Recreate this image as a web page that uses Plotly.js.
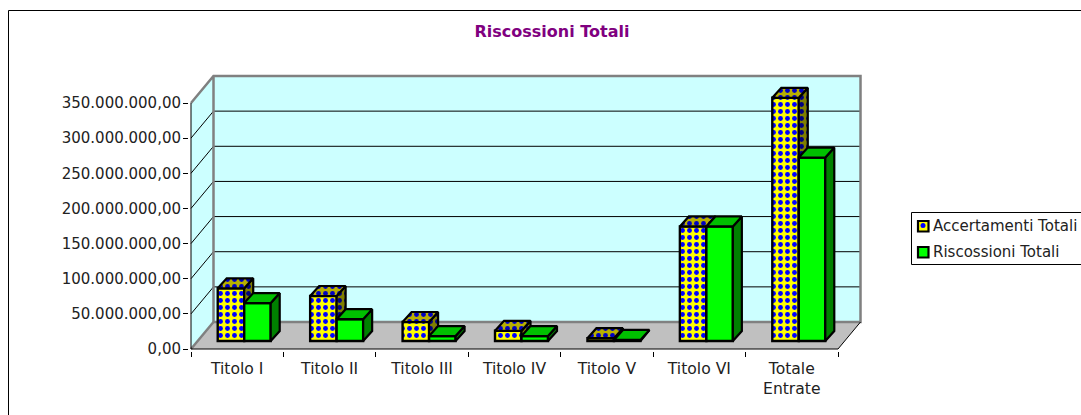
<!DOCTYPE html>
<html><head><meta charset="utf-8">
<script src="https://cdn.plot.ly/plotly-3.0.1.min.js"></script>
<style>html,body{margin:0;padding:0;background:#fff;overflow:hidden}</style>
</head><body><div id="chart" style="width:1081px;height:415px"></div>
<script>
const categories = ["Titolo I","Titolo II","Titolo III","Titolo IV","Titolo V","Titolo VI","Totale<br>Entrate"];
const accertamenti = [75000000,64000000,27000000,14500000,4000000,163000000,346000000];
const riscossioni = [54000000,31000000,7000000,7000000,1500000,163000000,261000000];
const tickValues = [0,50000000,100000000,150000000,200000000,250000000,300000000,350000000];
const tickLabels = ["0,00","50.000.000,00","100.000.000,00","150.000.000,00","200.000.000,00","250.000.000,00","300.000.000,00","350.000.000,00"];

const W=1081,H=415, FONT='"DejaVu Sans", Verdana, sans-serif', TEXT='#222';
// scale: pixels per category and per value on the front plane
const pxX=92.43, pxY=246/350000000, x0px=191, y0px=349;
const px=v=>v/pxX, py=v=>v/pxY;
const wallDX=px(22.5), wallDY=py(27);   // depth of the chart box
const barDX=px(9), barDY=py(10);        // depth of a bar
const barW=px(26.5), barShift=px(7), lift=py(8);
const rangeX=[px(189-x0px),px(862-x0px)], rangeY=[py(y0px-351),py(y0px-73)];
const maxV=tickValues[tickValues.length-1], nCat=categories.length;

const paperX=p=>p/W, paperY=p=>1-p/H;
const poly=pts=>'M'+pts.map(p=>p.join(',')).join('L')+'Z';
const seg=pts=>'M'+pts.map(p=>p.join(',')).join('L');
const shapes=[];
const dataShape=(path,fill,color,width)=>shapes.push({type:'path',xref:'x',yref:'y',layer:'below',path,fillcolor:fill||'rgba(0,0,0,0)',line:{color:color||'rgba(0,0,0,0)',width:width||0}});
// outer frame
shapes.push({type:'rect',xref:'paper',yref:'paper',layer:'below',x0:paperX(8.5),x1:1.2,y0:-0.2,y1:paperY(10.5),line:{color:'#000',width:1},fillcolor:'#fff'});
// walls and floor
dataShape(poly([[0,0],[wallDX,wallDY],[wallDX,maxV+wallDY],[0,maxV]]),'#CCFFFF');
dataShape(poly([[wallDX,wallDY],[nCat+wallDX,wallDY],[nCat+wallDX,maxV+wallDY],[wallDX,maxV+wallDY]]),'#CCFFFF');
dataShape(poly([[0,0],[nCat,0],[nCat+wallDX,wallDY],[wallDX,wallDY]]),'#C0C0C0');
// gridlines
tickValues.slice(1,-1).forEach(v=>dataShape(seg([[0,v],[wallDX,v+wallDY],[nCat+wallDX,v+wallDY]]),null,'#000',1));
// grey box edges
dataShape(seg([[0,maxV],[wallDX,maxV+wallDY],[nCat+wallDX,maxV+wallDY],[nCat+wallDX,wallDY],[wallDX,wallDY],[wallDX,maxV+wallDY]]),null,'#808080',2.5);
dataShape(seg([[0,0],[wallDX,wallDY]]),null,'#808080',2.5);
// axes
dataShape(seg([[0,0],[0,maxV]]),null,'#000',1);
dataShape(seg([[0,0],[nCat,0],[nCat+wallDX,wallDY]]),null,'#000',1);

// bars
const centers=categories.map((c,i)=>i+0.5+barShift);
function tops(vals,offset){const xs=[],ys=[];vals.forEach((v,i)=>{const l=centers[i]+offset,r=l+barW,t=v+lift;
  xs.push(l,l+barDX,r+barDX,r,l,null);ys.push(t,t+barDY,t+barDY,t,t,null);});return {xs,ys};}
function sides(vals,offset){const xs=[],ys=[];vals.forEach((v,i)=>{const r=centers[i]+offset+barW,t=v+lift;
  xs.push(r,r+barDX,r+barDX,r,r,null);ys.push(t,t+barDY,lift+barDY,lift,t,null);});return {xs,ys};}
const edge={color:'#000',width:2.2};
function series(name,vals,offset,xa,ya,front,topFill,sideFill){
  const t=tops(vals,offset),s=sides(vals,offset);
  return [
   Object.assign({type:'bar',name,x:centers,y:vals,base:vals.map(()=>lift),width:barW,offset:offset,xaxis:xa,yaxis:ya,hoverinfo:'skip',
     marker:Object.assign({line:{color:'#000',width:2.4}},front)}),
   Object.assign({type:'scatter',mode:'lines',x:s.xs,y:s.ys,xaxis:xa,yaxis:ya,fill:'toself',line:edge,hoverinfo:'skip',showlegend:false,cliponaxis:false},sideFill),
   Object.assign({type:'scatter',mode:'lines',x:t.xs,y:t.ys,xaxis:xa,yaxis:ya,fill:'toself',line:edge,hoverinfo:'skip',showlegend:false,cliponaxis:false},topFill)
  ];
}
const dots=(bg,fg)=>({shape:'.',bgcolor:bg,fgcolor:fg,fgopacity:1,fillmode:'replace',size:7,solidity:0.38});
const traces=[
 ...series('Accertamenti Totali',accertamenti,-barW,'x','y',
   {color:'#FFFF00',pattern:dots('#FFFF00','#0000FF')},
   {fillcolor:'#C0C000',fillpattern:dots('#B8B000','#0000C0')},
   {fillcolor:'#808000',fillpattern:dots('#808000','#000080')}),
 ...series('Riscossioni Totali',riscossioni,0,'x2','y2',
   {color:'#00FF00'},{fillcolor:'#00C000'},{fillcolor:'#008000'})
];

// legend
const legendRows=[{name:'Accertamenti Totali',y:226,fill:'#FFFF00',dot:true},{name:'Riscossioni Totali',y:252,fill:'#00FF00',dot:false}];
shapes.push({type:'rect',xref:'paper',yref:'paper',x0:paperX(911.5),x1:1.2,y0:paperY(264.5),y1:paperY(212.5),line:{color:'#000',width:1},fillcolor:'#fff'});
const annotations=[];
legendRows.forEach(r=>{
  shapes.push({type:'rect',xref:'paper',yref:'paper',x0:paperX(918),x1:paperX(928.5),y0:paperY(r.y+5.5),y1:paperY(r.y-5),line:{color:'#000',width:2.2},fillcolor:r.fill});
  if(r.dot)shapes.push({type:'circle',xref:'paper',yref:'paper',x0:paperX(920.5),x1:paperX(925.5),y0:paperY(r.y+2),y1:paperY(r.y-3),line:{width:0},fillcolor:'#0000FF'});
  annotations.push({xref:'paper',yref:'paper',x:paperX(931),y:paperY(r.y),xanchor:'left',yanchor:'middle',showarrow:false,text:r.name,font:{family:FONT,size:15,color:TEXT}});
});

const layout={
 width:W,height:H,margin:{l:0,r:0,t:0,b:0,pad:0},paper_bgcolor:'#fff',plot_bgcolor:'rgba(0,0,0,0)',showlegend:false,barmode:'overlay',
 title:{text:'Riscossioni Totali',x:552/W,xanchor:'center',xref:'paper',y:paperY(31),yanchor:'middle',yref:'paper',font:{family:FONT,size:16,color:'#800080',weight:'bold'}},
 xaxis:{domain:[paperX(189),paperX(862)],range:rangeX,showgrid:false,zeroline:false,showline:false,
   tickmode:'array',tickvals:categories.map((c,i)=>i+0.5),ticktext:categories,ticks:'',tickangle:0,
   tickfont:{family:FONT,size:15.6,color:TEXT},ticklabelstandoff:6,
   minor:{tickmode:'array',tickvals:categories.map((c,i)=>i).concat([nCat]),ticks:'outside',ticklen:5,tickcolor:'#000',tickwidth:1,showgrid:false},
   anchor:'y',fixedrange:true},
 yaxis:{domain:[paperY(351),paperY(73)],range:rangeY,showgrid:false,zeroline:false,showline:false,
   tickmode:'array',tickvals:tickValues,ticktext:tickLabels,ticks:'outside',ticklen:5,tickcolor:'#000',ticklabelstandoff:-1,
   tickfont:{family:FONT,size:15,color:TEXT},anchor:'x',fixedrange:true},
 xaxis2:{overlaying:'x',matches:'x',anchor:'y2',visible:false,range:rangeX},
 yaxis2:{overlaying:'y',matches:'y',anchor:'x2',visible:false,range:rangeY},
 shapes,annotations
};
Plotly.newPlot('chart',traces,layout,{displayModeBar:false,staticPlot:true});
</script></body></html>
